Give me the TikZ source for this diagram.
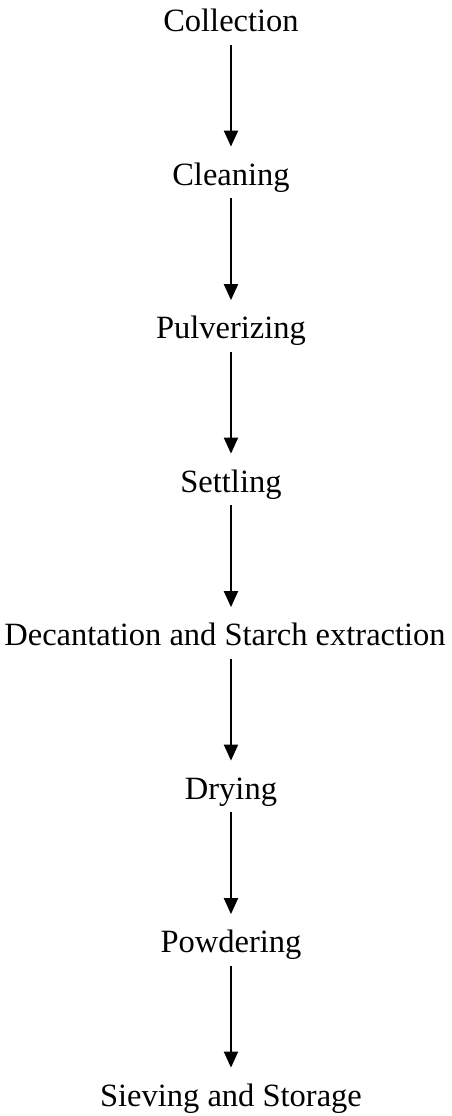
\documentclass[tikz,border=0pt]{standalone}
\usepackage{fontspec}
\setmainfont{Liberation Serif}
\usepackage{tikz}
\usetikzlibrary{arrows.meta}
\tikzstyle{stage} = [rectangle, anchor=base, inner xsep=0pt, inner ysep=2.5pt, text height=11.5pt, text depth=4pt, font=\fontsize{16.25}{19}\selectfont, color=black]
\tikzstyle{arrow} = [line width=1pt, -{Triangle[length=8pt, width=7pt]}, shorten >=5pt]

\begin{document}
\begin{tikzpicture}
      \useasboundingbox (0, 0) rectangle (7.9254, -19.6115);
      \node (collection)  at (4.059, -0.5536)  [stage] {Collection};
      \node (cleaning)    at (4.059, -3.2511)  [stage] {Cleaning};
      \node (pulverizing) at (4.059, -5.9486)  [stage] {Pulverizing};
      \node (settling)    at (4.059, -8.6461)  [stage] {Settling};
      \node (decantation) at (3.954, -11.3436) [stage] {Decantation and Starch extraction};
      \node (drying)      at (4.059, -14.0411) [stage] {Drying};
      \node (powdering)   at (4.059, -16.7386) [stage] {Powdering};
      \node (sieving)     at (4.059, -19.4361) [stage] {Sieving and Storage};
      %\draw[arrow] (collection) -- (sieving);
      \draw[arrow] (collection.south)  -- (cleaning.north);
      \draw[arrow] (cleaning.south)    -- (pulverizing.north);
      \draw[arrow] (pulverizing.south) -- (settling.north);
      \draw[arrow] (settling.south)    -- (settling.south |- decantation.north);
      \draw[arrow] (settling.south |- decantation.south) -- (drying.north);
      \draw[arrow] (drying.south)      -- (powdering.north);
      \draw[arrow] (powdering.south)   -- (sieving.north);
    \end{tikzpicture}
\end{document}
